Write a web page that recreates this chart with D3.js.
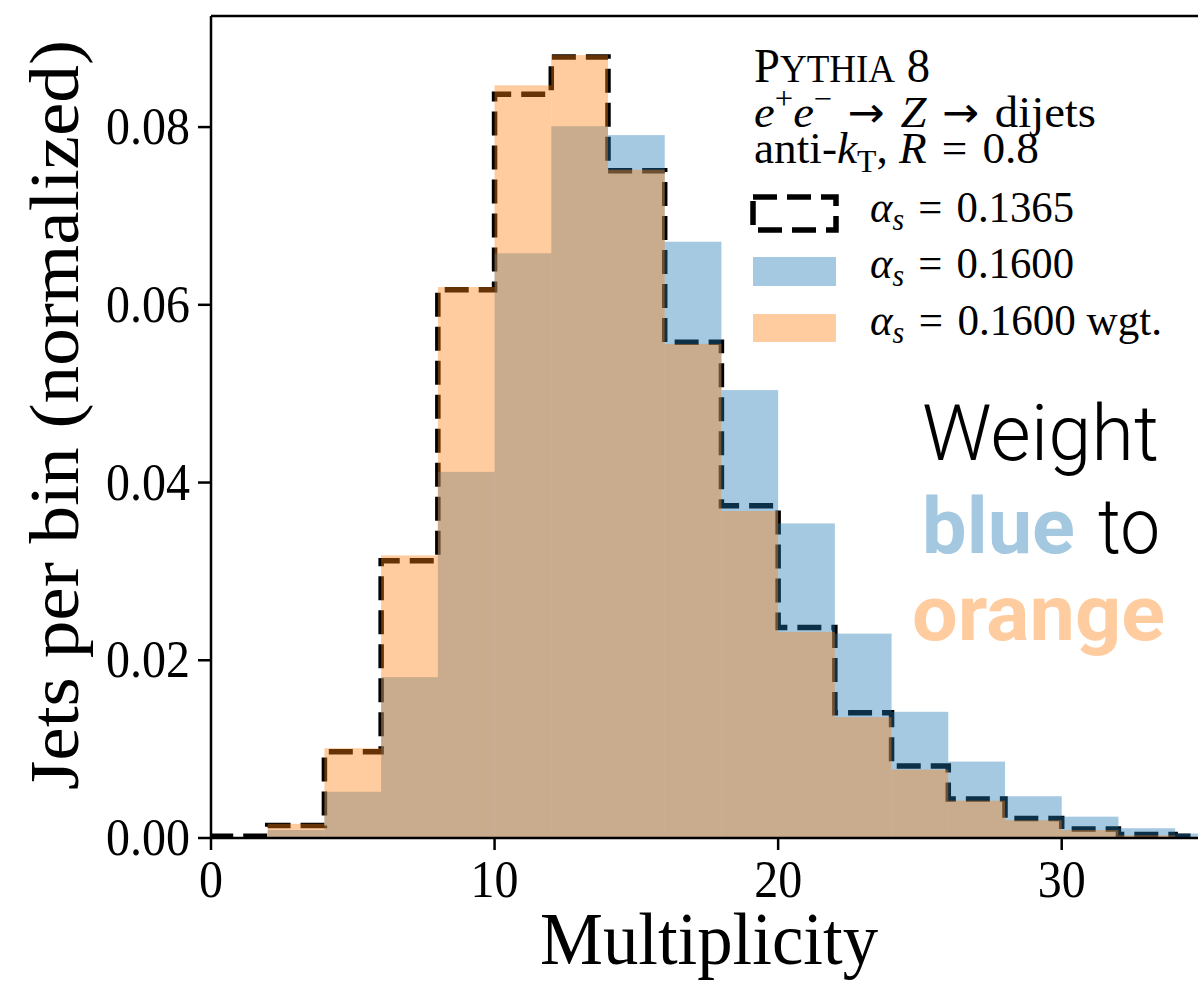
<!DOCTYPE html>
<html>
<head>
<meta charset="utf-8">
<script src="https://d3js.org/d3.v7.min.js"></script>
<style>
  body { margin: 0; background: #fff; }
  svg { display: block; }
  .serif { font-family: "Liberation Serif", "DejaVu Serif", serif; }
  .sans { font-family: Roboto, "Liberation Sans", sans-serif; }
  .arrow { font-family: "DejaVu Sans", sans-serif; }
</style>
</head>
<body>
<div id="chart"></div>
<script>
// bin edges (multiplicity), width 2
var binEdges = [0, 2, 4, 6, 8, 10, 12, 14, 16, 18, 20, 22, 24, 26, 28, 30, 32, 34, 36];
// alpha_s = 0.1365 (dashed step)
var nominal = [0.0002, 0.0014, 0.0097, 0.0312, 0.0617, 0.0837, 0.0879, 0.0751, 0.0558,
               0.0374, 0.0237, 0.0141, 0.0081, 0.0044, 0.0022, 0.0010, 0.0004, 0.0002];
// alpha_s = 0.1600 (blue)
var shifted = [0.0000, 0.0009, 0.0052, 0.0181, 0.0412, 0.0658, 0.0801, 0.0791, 0.0671,
               0.0504, 0.0354, 0.0230, 0.0142, 0.0086, 0.0047, 0.0024, 0.0011, 0.0005];
// alpha_s = 0.1600 reweighted (orange)
var weighted = [0.0000, 0.0016, 0.0101, 0.0318, 0.0620, 0.0847, 0.0881, 0.0752, 0.0556,
                0.0368, 0.0232, 0.0136, 0.0077, 0.0042, 0.0020, 0.0009, 0.0003, 0.0001];
var xTicks = [0, 10, 20, 30];
var yTicks = [0, 0.02, 0.04, 0.06, 0.08];
var legendLabels = ["0.1365", "0.1600", "0.1600 wgt."];

var W = 1198, H = 982;
var mLeft = 211, mTop = 16, mBottom = 838, mRight = 1203.5;
var blue = "rgba(31,119,180,0.4)", orange = "rgba(255,127,14,0.4)";
var STRETCH = 1.12; // glyphs in the picture are a little taller than wide
var SP = "\u2004"; // a bit wider than a normal space, like TeX around "="

var svg = d3.select("#chart").append("svg")
    .attr("width", W).attr("height", H);

var x = d3.scaleLinear().domain([0, 35]).range([mLeft, mRight]);
var y = d3.scaleLinear().domain([0, 0.0925]).range([mBottom, mTop]);

svg.append("clipPath").attr("id", "plotclip")
  .append("rect").attr("x", mLeft).attr("y", mTop - 5)
    .attr("width", mRight - mLeft).attr("height", mBottom - mTop + 5);

var plot = svg.append("g").attr("clip-path", "url(#plotclip)");

// helper for text with slight vertical stretch
function label(g, px, py, size, cls) {
  return g.append("text")
    .attr("class", cls || "serif")
    .attr("transform", "translate(" + px + "," + py + ") scale(1," + STRETCH + ")")
    .attr("font-size", size);
}

// dashed step outline, drawn first so the fills sit on top of it
var stepPts = [[binEdges[0], 0]];
nominal.forEach(function(v, i) {
  stepPts.push([binEdges[i], v]);
  stepPts.push([binEdges[i + 1], v]);
});
stepPts.push([binEdges[binEdges.length - 1], 0]);

plot.append("path")
  .datum(stepPts)
  .attr("d", d3.line().x(function(d) { return x(d[0]); }).y(function(d) { return y(d[1]); }))
  .attr("fill", "none")
  .attr("stroke", "#000")
  .attr("stroke-width", 5.5)
  .attr("stroke-dasharray", "24,10");

function bars(values, color) {
  plot.append("g").selectAll("rect")
    .data(values)
    .join("rect")
      .attr("x", function(d, i) { return x(binEdges[i]); })
      .attr("width", function(d, i) { return x(binEdges[i + 1]) - x(binEdges[i]); })
      .attr("y", function(d) { return y(d); })
      .attr("height", function(d) { return y(0) - y(d); })
      .attr("fill", color);
}
bars(shifted, blue);
bars(weighted, orange);

// frame
svg.append("path")
  .attr("d", "M" + mLeft + "," + mTop + "H" + mRight + "M" + mLeft + "," + mTop + "V" + mBottom + "H" + mRight)
  .attr("stroke", "#000").attr("stroke-width", 2.5).attr("fill", "none");

// ticks
xTicks.forEach(function(t) {
  svg.append("line").attr("x1", x(t)).attr("x2", x(t)).attr("y1", mBottom).attr("y2", mBottom + 12)
    .attr("stroke", "#000").attr("stroke-width", 2.5);
  label(svg, x(t), 897, 48).attr("text-anchor", "middle").text(t);
});
yTicks.forEach(function(t) {
  svg.append("line").attr("x1", mLeft - 13).attr("x2", mLeft).attr("y1", y(t)).attr("y2", y(t))
    .attr("stroke", "#000").attr("stroke-width", 2.5);
  label(svg, 190, y(t) + 17, 48).attr("text-anchor", "end").text(d3.format(".2f")(t));
});

// axis titles
label(svg, 709, 964, 66).attr("text-anchor", "middle")
  .attr("textLength", 338).attr("lengthAdjust", "spacingAndGlyphs").text("Multiplicity");
svg.append("text").attr("class", "serif")
  .attr("transform", "translate(78,415) rotate(-90)")
  .attr("font-size", 70).attr("text-anchor", "middle")
  .attr("textLength", 750).attr("lengthAdjust", "spacingAndGlyphs")
  .text("Jets per bin (normalized)");

// legend header
var t1 = label(svg, 754, 82, 44)
  .attr("textLength", 176).attr("lengthAdjust", "spacingAndGlyphs");
t1.append("tspan").text("P");
t1.append("tspan").attr("font-size", 35).text("YTHIA");
t1.append("tspan").text(" 8");

var t2 = label(svg, 754, 127, 40)
  .attr("textLength", 342).attr("lengthAdjust", "spacingAndGlyphs");
t2.append("tspan").attr("font-style", "italic").text("e");
t2.append("tspan").attr("font-size", 28).attr("dy", -16).text("+");
t2.append("tspan").attr("font-style", "italic").attr("dy", 16).text("e");
t2.append("tspan").attr("font-size", 28).attr("dy", -16).text("\u2212");
t2.append("tspan").attr("dy", 16).text(SP);
t2.append("tspan").attr("class", "arrow").attr("font-size", 38).text("\u2192");
t2.append("tspan").text(SP);
t2.append("tspan").attr("font-style", "italic").text("Z");
t2.append("tspan").text(SP);
t2.append("tspan").attr("class", "arrow").attr("font-size", 38).text("\u2192");
t2.append("tspan").text(SP + "dijets");

var t3 = label(svg, 754, 163, 40)
  .attr("textLength", 285).attr("lengthAdjust", "spacingAndGlyphs");
t3.append("tspan").text("anti-");
t3.append("tspan").attr("font-style", "italic").text("k");
t3.append("tspan").attr("font-size", 28).attr("dy", 8).text("T");
t3.append("tspan").attr("dy", -8).text(", ");
t3.append("tspan").attr("font-style", "italic").text("R");
t3.append("tspan").text(SP + "=" + SP + "0.8");

// legend entries
var handleY = [197, 257, 314];
var handleH = [33, 29, 28];
var textY = [222, 278, 335];
var textLen = [204, 204, 292];

svg.append("rect").attr("x", 753).attr("y", handleY[0]).attr("width", 83).attr("height", handleH[0])
  .attr("fill", "none").attr("stroke", "#000").attr("stroke-width", 5.5).attr("stroke-dasharray", "24,10");
svg.append("rect").attr("x", 753).attr("y", handleY[1]).attr("width", 83).attr("height", handleH[1]).attr("fill", blue);
svg.append("rect").attr("x", 753).attr("y", handleY[2]).attr("width", 83).attr("height", handleH[2]).attr("fill", orange);

legendLabels.forEach(function(s, i) {
  var t = label(svg, 870, textY[i], 40)
    .attr("textLength", textLen[i]).attr("lengthAdjust", "spacingAndGlyphs");
  t.append("tspan").attr("font-style", "italic").text("\u03b1");
  t.append("tspan").attr("font-style", "italic").attr("font-size", 28).attr("dy", 7).text("s");
  t.append("tspan").attr("dy", -7).text(SP + "=" + SP + s);
});

// annotation
label(svg, 922, 460, 70, "sans").attr("font-weight", 300)
  .attr("textLength", 237).attr("lengthAdjust", "spacingAndGlyphs").text("Weight");
label(svg, 922, 553, 70, "sans").attr("font-weight", 700).attr("fill", "#a5c8e1")
  .attr("textLength", 153).attr("lengthAdjust", "spacingAndGlyphs").text("blue");
label(svg, 1098, 553, 70, "sans").attr("font-weight", 300)
  .attr("textLength", 62).attr("lengthAdjust", "spacingAndGlyphs").text("to");
label(svg, 912, 640, 70, "sans").attr("font-weight", 700).attr("fill", "#ffcc9f")
  .attr("textLength", 253).attr("lengthAdjust", "spacingAndGlyphs").text("orange");
</script>
</body>
</html>
